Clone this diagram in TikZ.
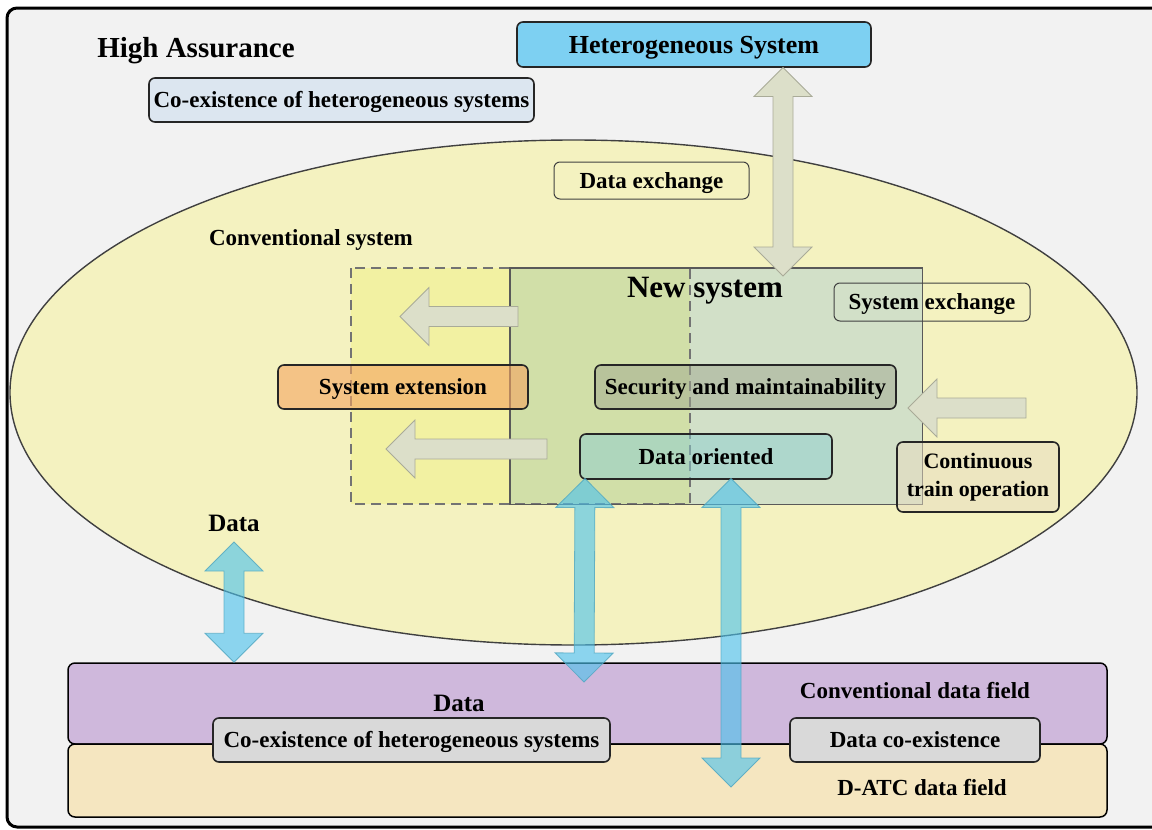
\documentclass[tikz,border=0pt]{standalone}
\usepackage{fontspec}
\setmainfont{Liberation Serif}
\usetikzlibrary{calc,shapes.geometric}

\definecolor{paper}{HTML}{F2F2F2}
\definecolor{convyellow}{HTML}{F4F2C0}
\definecolor{extyellow}{HTML}{F2F1A2}
\definecolor{newgreen}{HTML}{D2E0C8}
\definecolor{overlapgreen}{HTML}{D1DFA8}
\definecolor{heteroblue}{HTML}{7DD0F2}
\definecolor{paleblue}{HTML}{DCE6F0}
\definecolor{extorange}{HTML}{F4A460}
\definecolor{olivegray}{HTML}{A0A890}
\definecolor{tealbox}{HTML}{8CCFD0}
\definecolor{beigebox}{HTML}{E8DCC0}
\definecolor{convpurple}{HTML}{CFB8DC}
\definecolor{datcbeige}{HTML}{F5E6C0}
\definecolor{boxgray}{HTML}{D9D9D9}
\definecolor{arrowgray}{HTML}{DCDFC9}
\definecolor{arrowgrayline}{HTML}{A9AB98}
\definecolor{flowblue}{HTML}{4DC2EC}
\definecolor{flowblueline}{HTML}{4FA6C0}

\newcommand\setfs[2]{\fontsize{#1}{#2}\selectfont}

% broad two-headed arrow between two points
\newcommand\fatdouble[3]{%
  \path[#1] let \p1=(#2), \p2=(#3),
      \n1={atan2(\y2-\y1,\x2-\x1)}, \n2={veclen(\x2-\x1,\y2-\y1)} in
    [shift={(\x1,\y1)}, rotate=\n1]
    (0pt,0pt) -- (29pt,29pt) -- (29pt,10pt) -- ({\n2-29pt},10pt)
    -- ({\n2-29pt},29pt) -- ({\n2+0pt},0pt) -- ({\n2-29pt},-29pt)
    -- ({\n2-29pt},-10pt) -- (29pt,-10pt) -- (29pt,-29pt) -- cycle;}

% broad one-headed arrow from tail to tip
\newcommand\fatsingle[3]{%
  \path[#1] let \p1=(#2), \p2=(#3),
      \n1={atan2(\y2-\y1,\x2-\x1)}, \n2={veclen(\x2-\x1,\y2-\y1)} in
    [shift={(\x1,\y1)}, rotate=\n1]
    (0pt,10pt) -- ({\n2-29pt},10pt) -- ({\n2-29pt},29pt)
    -- ({\n2+0pt},0pt) -- ({\n2-29pt},-29pt) -- ({\n2-29pt},-10pt)
    -- (0pt,-10pt) -- cycle;}

\begin{document}
\begin{tikzpicture}[x=1pt,y=-1pt,
  frame/.style={draw=black, line width=3pt, rounded corners=10pt, fill=paper},
  tbox/.style={rounded corners=6pt, draw=black!85, line width=1.6pt,
    inner sep=0pt, font=\bfseries\setfs{23}{28}, align=center,
    text height=19.8pt, text depth=4.6pt},
  thinbox/.style={tbox, line width=1pt, draw=black!75},
  lbl/.style={inner sep=0pt, anchor=base, font=\bfseries\setfs{23}{28}},
  field/.style={draw=black, line width=1.5pt, rounded corners=7pt, inner sep=0pt},
  grayarrow/.style={fill=arrowgray, draw=arrowgrayline, line width=0.8pt},
  bluearrow/.style={fill=flowblue, fill opacity=0.62, draw=flowblueline,
    draw opacity=0.8, line width=0.8pt},
]
\useasboundingbox (0,0) rectangle (1152,830);

% outer frame
\draw[frame] (7,8) rectangle (1175,827);

% conventional system
\node[ellipse, draw=black!75, line width=1.4pt, fill=convyellow, inner sep=0pt,
  minimum width=1127pt, minimum height=505pt] (conv) at (573.5,392.5) {};

% extension area and new system
\fill[extyellow] (351,268) rectangle (690,504);
\node[fill=newgreen, inner sep=0pt, minimum width=412pt, minimum height=236pt]
  (newsys) at (716,386) {};
\fill[overlapgreen] (510,268) rectangle (690,504);
\draw[draw=black!55, line width=1.4pt, dash pattern=on 10pt off 6pt]
  (351,268) rectangle (690,504);
\draw[draw=black!65, line width=1.4pt] (newsys.north west) rectangle (newsys.south east);

% top level boxes and titles
\node[tbox, fill=heteroblue, minimum width=354pt, minimum height=45pt,
  font=\bfseries\setfs{26}{30}, text height=22.4pt, text depth=5.2pt]
  (hetero) at (694,44.5) {Heterogeneous System};
\node[tbox, fill=paleblue, minimum width=385pt, minimum height=44pt]
  (coextop) at (341.5,100) {Co-existence of heterogeneous systems};
\node[lbl, font=\bfseries\setfs{29}{34}] (assur) at (196,57) {High Assurance};
\node[thinbox, fill=convyellow, minimum width=195pt, minimum height=37pt]
  (dataex) at (651.5,180.5) {Data exchange};
\node[lbl] (convlbl) at (311,245) {Conventional system};
\node[lbl, font=\bfseries\setfs{31}{36}] (nslbl) at (705,297) {New system};

% boxes inside the conventional system
\node[tbox, fill=extorange, fill opacity=0.6, text opacity=1,
  minimum width=250pt, minimum height=44pt] (sysext) at (403,387) {System extension};
\node[tbox, fill=olivegray, fill opacity=0.5, text opacity=1,
  minimum width=301pt, minimum height=44pt] (secur) at (745.5,387)
  {Security and maintainability};
\node[tbox, fill=tealbox, fill opacity=0.5, text opacity=1,
  minimum width=252pt, minimum height=45pt] (dataor) at (706,456.5) {Data oriented};
\node[thinbox, minimum width=196pt, minimum height=38pt]
  (sysexch) at (932,302) {System exchange};
\node[tbox, fill=beigebox, fill opacity=0.5, text opacity=1,
  minimum width=162pt, minimum height=70pt, text height=, text depth=,
  font=\bfseries\setfs{22}{28}] (contin) at (978,477)
  {Continuous\\train operation};

% exchange arrows
\coordinate (hetTip) at (783,67.5);
\coordinate (nsTip) at (783,276);
\coordinate (extA) at (518,316.5);
\coordinate (extAtip) at (400,316.5);
\coordinate (extB) at (547,449);
\coordinate (extBtip) at (386,449);
\coordinate (opTail) at (1026,408);
\coordinate (opTip) at (908,408);
\fatdouble{grayarrow}{hetTip}{nsTip}
\fatsingle{grayarrow}{extA}{extAtip}
\fatsingle{grayarrow}{extB}{extBtip}
\fatsingle{grayarrow}{opTail}{opTip}

% data fields
\node[field, fill=convpurple, minimum width=1039pt, minimum height=81pt]
  (convfield) at (587.5,703.5) {};
\node[field, fill=datcbeige, minimum width=1039pt, minimum height=73pt]
  (datcfield) at (587.5,780.5) {};
\node[lbl, font=\bfseries\setfs{25}{30}] (datalbl) at (459,711) {Data};
\node[lbl] (convdf) at (915,698) {Conventional data field};
\node[lbl] (datcdf) at (922,795) {D-ATC data field};
\node[tbox, fill=boxgray, minimum width=397pt, minimum height=44pt]
  (coexbot) at (411.5,740) {Co-existence of heterogeneous systems};
\node[tbox, fill=boxgray, minimum width=250pt, minimum height=44pt]
  (datacoex) at (915,740) {Data co-existence};

% data arrows
\node[lbl, font=\bfseries\setfs{25}{30}] (dataside) at (234,531) {Data};
\coordinate (dUp) at (234,542);
\coordinate (dDown) at (convfield.north -| dUp);
\coordinate (orA) at (585,478.5);
\coordinate (orAend) at (584,682);
\coordinate (orB) at (731,478.5);
\coordinate (orBend) at (731,787);
\fatdouble{bluearrow}{dUp}{dDown}
\fatdouble{bluearrow}{orA}{orAend}
\fatdouble{bluearrow}{orB}{orBend}
\end{tikzpicture}
\end{document}
